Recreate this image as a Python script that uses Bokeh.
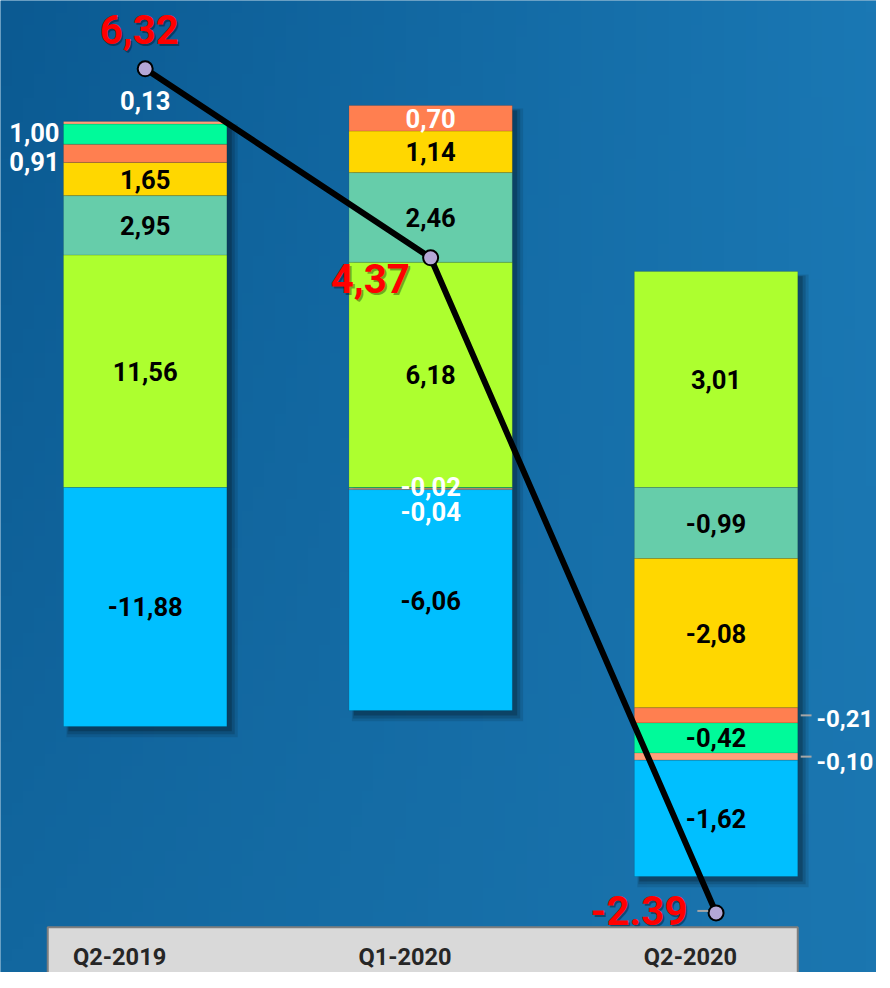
import numpy as np
from bokeh.plotting import figure
from bokeh.models import Range1d
from bokeh.core.properties import value
from bokeh.embed import file_html
from bokeh.resources import INLINE

# ---------------- data ----------------
categories = ["Q2-2019", "Q1-2020", "Q2-2020"]
serie_verde = [11.56, 6.18, 3.01]
serie_aguamarina = [2.95, 2.46, -0.99]
serie_oro = [1.65, 1.14, -2.08]
serie_coral = [0.91, 0.70, -0.21]
serie_primavera = [1.00, -0.02, -0.42]
serie_salmon = [0.13, -0.04, -0.10]
serie_azul = [-11.88, -6.06, -1.62]
totals = [6.32, 4.37, -2.39]
total_labels = ["6,32", "4,37", "-2.39"]

series = [serie_verde, serie_aguamarina, serie_oro, serie_coral,
          serie_primavera, serie_salmon, serie_azul]
colors = ["#adff2f", "#66cdaa", "#ffd700", "#ff7f50", "#00fa9a", "#ffa07a", "#00bfff"]

FONT = value("Roboto")

# ---------------- geometry (designed in reference pixels, then scaled) ----------------
RW, RH = 890, 988
S = 972 / RH
W, H = round(RW * S), 972
PX_X = 290.0     # ref pixels per category step
PX_PCT = 6.15    # ref pixels per percent (100% stacked bars)
PX_TOT = 98.5    # ref pixels per unit of the totals line
ZERO_BAR = 495
ZERO_TOT = 692
x_start = -147 / PX_X
x_end = x_start + RW / PX_X
y_start = -(RH - ZERO_BAR) / PX_PCT
y_end = ZERO_BAR / PX_PCT


def dx(px):
    return px / PX_X


def dy(px):
    return px / PX_PCT


def fs(px):
    return f"{px * S:.1f}px"


p = figure(width=W, height=H, x_range=Range1d(x_start, x_end),
           y_range=Range1d(y_start, y_end), output_backend="svg",
           toolbar_location=None, min_border=0,
           x_axis_location=None, y_axis_location=None)
p.extra_y_ranges = {"tot": Range1d(-(RH - ZERO_TOT) / PX_TOT, ZERO_TOT / PX_TOT)}
p.xgrid.grid_line_color = None
p.ygrid.grid_line_color = None
p.outline_line_color = None
p.background_fill_color = "#136aa3"
p.border_fill_color = "#136aa3"

# ---------------- background gradient ----------------
ny, nx = 80, 80
rows, cols = np.mgrid[0:ny, 0:nx]
t = rows / (ny - 1)          # 1 at top
u = cols / (nx - 1)          # 1 at right
tl = np.array([11, 90, 146]); tr = np.array([26, 120, 180])
bl = np.array([18, 103, 159]); br = np.array([27, 118, 176])
rgb = ((1 - u)[..., None] * ((1 - t)[..., None] * bl + t[..., None] * tl)
       + u[..., None] * ((1 - t)[..., None] * br + t[..., None] * tr))
img = np.empty((ny, nx), dtype=np.uint32)
view = img.view(dtype=np.uint8).reshape((ny, nx, 4))
view[..., 0] = rgb[..., 0].astype(np.uint8)
view[..., 1] = rgb[..., 1].astype(np.uint8)
view[..., 2] = rgb[..., 2].astype(np.uint8)
view[..., 3] = 255
p.image_rgba(image=[img], x=x_start, y=y_start, dw=x_end - x_start, dh=y_end - y_start)

# ---------------- stacks (100 % of absolute sum) ----------------
n = len(categories)
xs = np.arange(n, dtype=float)
BW = 166 / PX_X
arr = np.array(series, dtype=float)
scale = 100.0 / np.abs(arr).sum(axis=0)
pos_base = np.zeros(n)
neg_base = np.zeros(n)
segs = []
for si in range(len(series)):
    for ci in range(n):
        v = arr[si, ci] * scale[ci]
        if v >= 0:
            b = pos_base[ci]; tp = b + v; pos_base[ci] = tp
        else:
            tp = neg_base[ci]; b = tp + v; neg_base[ci] = b
        segs.append((si, ci, b, tp))

# shadows
for off, grow, alpha in [(7, 4, 0.10), (6, 2, 0.14), (5, 0, 0.20)]:
    p.quad(left=xs - BW / 2 + dx(off) - dx(grow), right=xs + BW / 2 + dx(off) + dx(grow),
           bottom=neg_base - dy(off) - dy(grow), top=pos_base - dy(off) + dy(grow),
           fill_color="#000000", fill_alpha=alpha, line_color=None)

for si in range(len(series)):
    ss = [s for s in segs if s[0] == si]
    p.quad(left=[xs[s[1]] - BW / 2 for s in ss], right=[xs[s[1]] + BW / 2 for s in ss],
           bottom=[s[2] for s in ss], top=[s[3] for s in ss],
           fill_color=colors[si], line_color="#000000", line_alpha=0.12, line_width=1)

# ---------------- segment labels ----------------
specs = {
    (0, 3): ("left", "white", 8),
    (0, 4): ("left", "white", -2),
    (0, 5): ("above", "white", 0),
    (1, 3): ("in", "white", 0),
    (1, 4): ("in", "white", -1),
    (1, 5): ("in", "white", 23),
    (2, 3): ("right", "white", 3),
    (2, 5): ("right", "white", 5),
}
lab = {"c": dict(x=[], y=[], text=[], color=[]),
       "r": dict(x=[], y=[], text=[], color=[]),
       "l": dict(x=[], y=[], text=[], color=[])}
lead_x0, lead_x1, lead_y = [], [], []
for si, ci, b, tp in segs:
    txt = f"{series[si][ci]:.2f}".replace(".", ",")
    mode, col, off = specs.get((ci, si), ("in", "black", 0))
    mid = (b + tp) / 2 - dy(off)
    if mode == "in":
        d = lab["c"]; x = xs[ci]
    elif mode == "above":
        d = lab["c"]; x = xs[ci]; mid = pos_base[ci] + dy(21)
    elif mode == "left":
        d = lab["r"]; x = xs[ci] - BW / 2 - dx(4)
    else:
        d = lab["l"]; x = xs[ci] + BW / 2 + dx(19)
        lead_x0.append(xs[ci] + BW / 2 + dx(3)); lead_x1.append(xs[ci] + BW / 2 + dx(14))
        lead_y.append((b + tp) / 2)
    d["x"].append(x); d["y"].append(mid); d["text"].append(txt); d["color"].append(col)

p.segment(x0=lead_x0, y0=lead_y, x1=lead_x1, y1=lead_y, line_color="#a6a6a6", line_width=2)
for key, align in [("c", "center"), ("r", "right"), ("l", "left")]:
    d = lab[key]
    p.text(x=d["x"], y=d["y"], text=d["text"], text_color=d["color"], text_align=align,
           text_baseline="middle", text_font=FONT, text_font_style="bold",
           text_font_size=fs(24.5 if key == "l" else 26))

# ---------------- totals line ----------------
p.line(xs, totals, y_range_name="tot", line_color="#000000", line_width=6)
p.scatter(xs, totals, y_range_name="tot", size=15, fill_color="#b4a7d6",
          line_color="#000000", line_width=2)

tot_y = np.array(totals, dtype=float)
tx = [xs[0] - dx(6), xs[1] - dx(21), xs[2] - dx(29)]
ty = [tot_y[0] + 40 / PX_TOT, tot_y[1] - 21 / PX_TOT, tot_y[2] + 2 / PX_TOT]
aligns = ["center", "right", "right"]
p.segment(x0=[xs[2] - dx(19)], y0=[tot_y[2] + 2 / PX_TOT], x1=[xs[2] - dx(8)],
          y1=[tot_y[2] + 2 / PX_TOT], y_range_name="tot", line_color="#a6a6a6", line_width=2)
for i in range(n):
    p.text(x=[tx[i] + dx(2)], y=[ty[i] - 2 / PX_TOT], text=[total_labels[i]],
           y_range_name="tot", text_color="#000000", text_alpha=0.35,
           text_align=aligns[i], text_baseline="middle", text_font=FONT,
           text_font_style="bold", text_font_size=fs(41))
    p.text(x=[tx[i]], y=[ty[i]], text=[total_labels[i]], y_range_name="tot",
           text_color="#ff0000", text_align=aligns[i], text_baseline="middle",
           text_font=FONT, text_font_style="bold", text_font_size=fs(41))

# ---------------- category box ----------------
p.quad(left=[xs[0] - BW / 2 - dx(16)], right=[xs[2] + BW / 2], bottom=[y_start - 5],
       top=[dy(ZERO_BAR - 942)], fill_color="#d9d9d9", line_color="#7f7f7f", line_width=2)
p.text(x=xs - dx(26), y=[dy(ZERO_BAR - 972)] * n, text=categories, text_color="#262626",
       text_align="center", text_baseline="middle", text_font=FONT,
       text_font_style="bold", text_font_size=fs(24))

open("out.html", "w").write(file_html(p, INLINE))
